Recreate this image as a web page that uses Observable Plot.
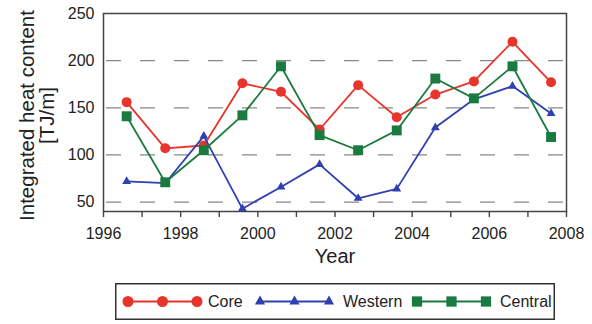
<!DOCTYPE html>
<html><head><meta charset="utf-8">
<script src="https://cdn.jsdelivr.net/npm/d3@7"></script>
<script src="https://cdn.jsdelivr.net/npm/@observablehq/plot@0.6"></script>
<style>
body{margin:0;background:#fff;font-family:"Liberation Sans",Arial,sans-serif;}
#wrap{position:relative;width:592px;height:324px;}
#legend{position:absolute;left:115px;top:283px;}
</style></head>
<body><div id="wrap"><div id="chart"></div><div id="legend"></div></div>
<script>
const years = [1996.6, 1997.6, 1998.6, 1999.6, 2000.6, 2001.6, 2002.6, 2003.6, 2004.6, 2005.6, 2006.6, 2007.6];
const core = [156, 107, 110, 176, 167, 127, 174, 140, 164, 178, 220, 177];
const western = [72, 70, 120, 43, 66, 90, 54, 64, 129, 159, 173, 144];
const central = [141, 71, 105, 142, 194, 121, 105, 126, 181, 160, 194, 119];
const seriesNames = ["Core", "Western", "Central"];
const colors = ["#e8352b", "#3040b0", "#1b7a40"];
const yTicks = [50, 100, 150, 200, 250];
const gridValues = [50, 100, 150, 200];
const xTicks = [1996, 1997, 1998, 1999, 2000, 2001, 2002, 2003, 2004, 2005, 2006, 2007, 2008];
const yLabel = "Integrated heat content\n[TJ/m]";
const xLabel = "Year";

const rows = (vals) => years.map((x, i) => ({x, y: vals[i]}));
const coreRows = rows(core), westRows = rows(western), centRows = rows(central);

const chart = Plot.plot({
  width: 592, height: 278,
  marginLeft: 103, marginRight: 26, marginTop: 13, marginBottom: 67,
  style: {fontFamily: '"Liberation Sans", Arial, sans-serif', color: "#222", background: "#fff"},
  x: {domain: [1996, 2008], label: null},
  y: {domain: [40, 250], label: null},
  marks: [
    Plot.ruleY(gridValues, {stroke: "#888", strokeWidth: 1.3, strokeDasharray: "15,19", strokeDashoffset: -3}),
    Plot.axisY(yTicks, {tickSize: 0, tickPadding: 9, fontSize: 16, label: null}),
    Plot.axisX(xTicks, {tickSize: 6, tickPadding: 10, fontSize: 16, stroke: "#444", strokeWidth: 1.4, tickFormat: d => d % 2 === 0 ? String(d) : "", label: null}),
    Plot.frame({stroke: "#444", strokeWidth: 1.5}),
    Plot.line(coreRows, {x: "x", y: "y", stroke: colors[0], strokeWidth: 1.8}),
    Plot.dot(coreRows, {x: "x", y: "y", fill: colors[0], r: 5, symbol: "circle"}),
    Plot.line(westRows, {x: "x", y: "y", stroke: colors[1], strokeWidth: 1.8}),
    Plot.dot(westRows, {x: "x", y: "y", fill: colors[1], r: 3.3, symbol: "triangle"}),
    Plot.line(centRows, {x: "x", y: "y", stroke: colors[2], strokeWidth: 1.8}),
    Plot.dot(centRows, {x: "x", y: "y", fill: colors[2], r: 5.6, symbol: "square"}),
    Plot.text([yLabel], {frameAnchor: "left", textAnchor: "middle", lineAnchor: "middle", rotate: -90, dx: -66, dy: 3, fontSize: 20.5, lineHeight: 1.0, fill: "#222"}),
    Plot.text([xLabel], {frameAnchor: "bottom", dy: 51, fontSize: 20, fill: "#222"})
  ]
});
document.getElementById("chart").append(chart);

// Legend
const lw = 440, lh = 37;
const svg = d3.select("#legend").append("svg").attr("width", lw).attr("height", lh)
  .style("font-family", '"Liberation Sans", Arial, sans-serif');
svg.append("rect").attr("x", 0.75).attr("y", 0.75).attr("width", lw - 1.5).attr("height", lh - 1.5)
  .attr("fill", "#fff").attr("stroke", "#333").attr("stroke-width", 1.5);
const starts = [13, 145, 302];
const textX = [93, 228, 385];
const syms = [d3.symbolCircle, d3.symbolTriangle, d3.symbolSquare];
const symR = [5.5, 3.8, 5.8];
seriesNames.forEach((name, i) => {
  const g = svg.append("g").attr("transform", `translate(${starts[i]},${lh / 2})`);
  g.append("line").attr("x1", 0).attr("x2", 69).attr("stroke", colors[i]).attr("stroke-width", 1.8);
  [0, 34.5, 69].forEach(px => {
    g.append("path").attr("d", d3.symbol(syms[i], Math.PI * symR[i] * symR[i])())
      .attr("transform", `translate(${px},0)`).attr("fill", colors[i]);
  });
  svg.append("text").attr("x", textX[i]).attr("y", lh / 2).attr("dy", "0.35em")
    .attr("font-size", 16).attr("fill", "#222").text(name);
});
</script></body></html>
